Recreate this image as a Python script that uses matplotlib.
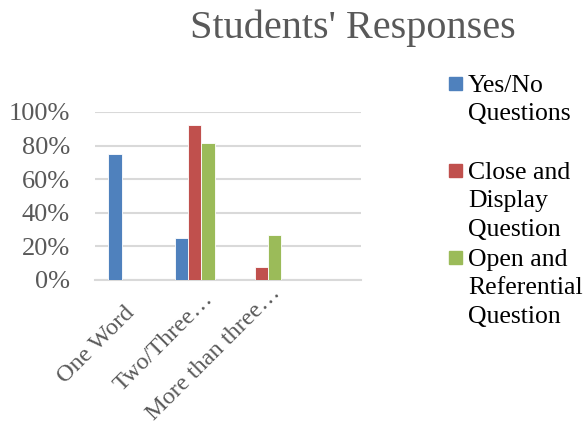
import matplotlib.pyplot as plt
import matplotlib.transforms as mtransforms
import numpy as np
from matplotlib.patches import Rectangle

categories = ["One Word", "Two/Three…", "More than three…", ""]
series_names = ["Yes/No\nQuestions", "Close and\nDisplay\nQuestion", "Open and\nReferential\nQuestion"]
yes_no = [0.75, 0.25, 0.0, 0.0]
close_display = [0.0, 0.925, 0.075, 0.0]
open_referential = [0.0, 0.815, 0.27, 0.0]
colors = ["#4F81BD", "#C0504D", "#9BBB59"]

W, H = 583, 428
fig = plt.figure(figsize=(W / 100, H / 100), dpi=100)
ax = fig.add_axes([95 / W, 1 - 280 / H, (361 - 95) / W, (280 - 112) / H])

serif = "Liberation Serif"
x = np.arange(len(categories))
width = 0.2
for i, vals in enumerate([yes_no, close_display, open_referential]):
    ax.bar(x + (i - 1) * width, vals, width, color=colors[i],
           edgecolor="white", linewidth=0.6, zorder=3)

ax.set_xlim(-0.5, len(categories) - 0.5)
ax.set_ylim(0, 1)
ax.set_yticks(np.arange(0, 1.01, 0.2))
ax.set_yticklabels([f"{int(round(v * 100))}%" for v in np.arange(0, 1.01, 0.2)],
                   fontsize=19, color="#595959", family=serif)
ax.set_xticks(x)
ax.set_xticklabels([])
ax.tick_params(axis="both", length=0)
ax.tick_params(axis="y", pad=18)
ax.grid(axis="y", color="#D9D9D9", linewidth=1.5, zorder=0)
for s in ["top", "right", "left"]:
    ax.spines[s].set_visible(False)
ax.spines["bottom"].set_color("#D9D9D9")
ax.spines["bottom"].set_linewidth(1.5)
ax.set_axisbelow(True)

# category labels, rotated like Excel's; end of baseline shifted (right, down) in px
label_shift = [(7, 34), (19, 20), (20, 14), (20, 14)]
base = ax.get_xaxis_transform()
for xi, cat, (dx, dy) in zip(x, categories, label_shift):
    tr = mtransforms.offset_copy(base, fig=fig, x=dx, y=-dy, units="dots")
    ax.text(xi, 0, cat, transform=tr, rotation=45, rotation_mode="anchor",
            ha="right", va="baseline", fontsize=17.5, color="#595959", family=serif)

fig.text(353 / W, 1 - 38 / H, "Students' Responses", ha="center", va="baseline",
         fontsize=29, color="#595959", family=serif)

# legend, drawn by hand to follow the uneven spacing of the original
legend_baselines = [93, 180, 267]
for name, col, bl in zip(series_names, colors, legend_baselines):
    fig.patches.append(Rectangle((449 / W, 1 - (bl - 3) / H), 13 / W, 13 / H,
                                 transform=fig.transFigure, color=col, figure=fig))
    fig.text(468 / W, 1 - (bl - 18) / H, name, ha="left", va="top",
             fontsize=18.5, color="black", family=serif, linespacing=1.38)

fig.savefig("out.png", dpi=100)
